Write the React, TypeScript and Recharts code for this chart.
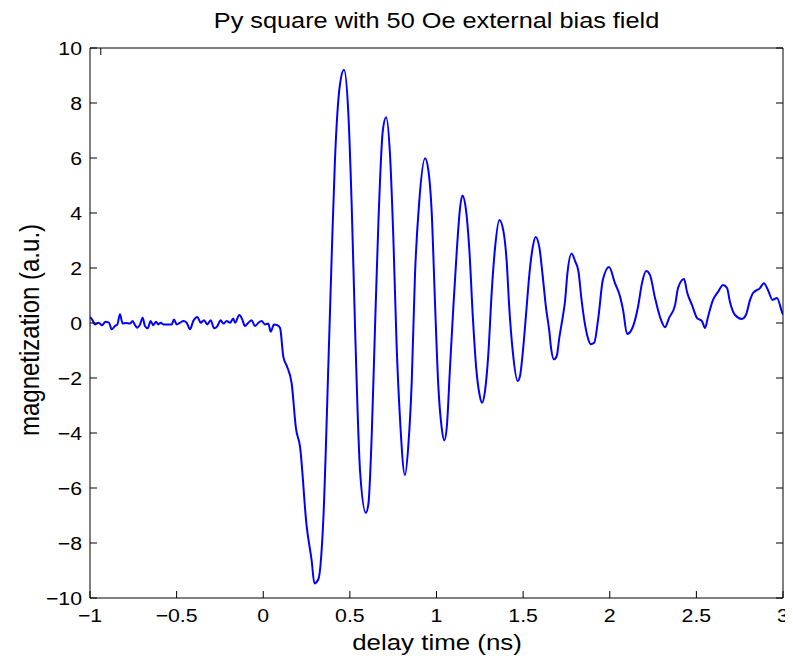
import { Line, LineChart, XAxis, YAxis } from "recharts";

// delay time (ns) and magnetization (a.u.)
const delayTime = [
  -1.0, -0.995, -0.97, -0.95, -0.93, -0.91, -0.89, -0.875, -0.856, -0.842, -0.827, -0.812, -0.792, -0.77,
  -0.754, -0.74, -0.727, -0.711, -0.696, -0.683, -0.667, -0.65, -0.635, -0.619, -0.606, -0.592, -0.577,
  -0.548, -0.528, -0.515, -0.5, -0.48, -0.461, -0.442, -0.423, -0.404, -0.38, -0.361, -0.342, -0.323,
  -0.303, -0.284, -0.265, -0.246, -0.23, -0.211, -0.192, -0.173, -0.163, -0.138, -0.121, -0.106, -0.086,
  -0.067, -0.048, -0.028, -0.009, 0.01, 0.029, 0.043, 0.062, 0.081, 0.097,
  0.116, 0.135, 0.164, 0.189, 0.212, 0.25, 0.28, 0.295, 0.318, 0.347, 0.376, 0.395, 0.414, 0.443, 0.466,
  0.491, 0.51, 0.53, 0.559, 0.592, 0.607, 0.626, 0.645, 0.665, 0.69, 0.709, 0.732, 0.751, 0.77, 0.789,
  0.818, 0.837, 0.857, 0.876, 0.9, 0.934, 0.953, 0.972, 0.991, 1.01, 1.03, 1.045, 1.059, 1.078, 1.097,
  1.117, 1.136, 1.149, 1.171, 1.19, 1.21, 1.229, 1.248, 1.263, 1.28, 1.299, 1.319, 1.338, 1.363, 1.386,
  1.405, 1.42, 1.44, 1.469, 1.482, 1.497, 1.517, 1.536, 1.555, 1.572, 1.594, 1.612, 1.632, 1.651, 1.661,
  1.678, 1.694, 1.709, 1.728, 1.742, 1.755, 1.78, 1.8, 1.819, 1.838, 1.857, 1.876, 1.89, 1.91, 1.934,
  1.96, 1.996, 2.03, 2.06, 2.077, 2.1, 2.128, 2.163, 2.186, 2.21, 2.232, 2.26, 2.29, 2.319, 2.342, 2.377,
  2.394, 2.429, 2.446, 2.475, 2.504, 2.532, 2.55, 2.567, 2.596, 2.625, 2.654, 2.677, 2.694, 2.723, 2.763,
  2.786, 2.81, 2.827, 2.867, 2.89, 2.913, 2.94, 2.965, 2.994, 3.0,
];

const magnetization = [
  0.2, 0.19, -0.05, 0.01, -0.08, 0.05, 0.01, -0.23, -0.11, -0.05, 0.32, -0.02, 0, -0.02,
  0.07, -0.08, -0.17, -0.05, 0.19, -0.11, -0.19, 0.07, -0.08, 0.05, -0.05, 0.01, -0.05,
  -0.05, -0.05, 0.13, -0.05, 0.01, 0.07, 0.01, -0.23, 0.07, 0.22, 0.01, 0.1, -0.05,
  0.1, -0.19, -0.11, 0.1, -0.02, 0.07, 0.01, 0.16, 0.01, 0.29, 0.13, -0.11, 0.01,
  0.1, -0.11, 0.01, 0.07, -0.05, -0.02, -0.32, -0.05, -0.08, -0.18,
  -1.23, -1.55, -2.2, -3.84, -4.49, -7.36, -8.67, -9.47, -9.32, -7.1, -1.49, 2.43, 5.95, 8.69, 9.21,
  7.64, 4.38, -0.18, -5.4, -6.9, -6.58, -4.1, -0.18, 3.73, 6.99, 7.48, 6.08, 3.08, -0.84, -3.44,
  -5.53, -4.49, -2.14, 1.78, 4.38, 5.99, 5.56, 4.07, 0.8, -2.23, -3.81, -4.27, -3.81, -1.62, 0.56,
  2.62, 4.19, 4.64, 4.07, 2.62, 0.19, -1.62, -2.59, -2.9, -2.47, -1.14, 1.16, 2.74, 3.75, 3.35,
  2.25, 0.56, -1.02, -2.11, -1.93, -1.14, 0.32, 1.77, 2.74, 3.13, 2.74, 1.77, 0.56, -0.29, -0.9,
  -1.32, -1.2, -0.53, 0.19, 0.8, 1.77, 2.53, 2.25, 1.89, 0.8, -0.05, -0.59, -0.77, -0.72, 0.19,
  1.56, 2.04, 1.45, 0.95, 0.47, -0.4, -0.22, 0.58, 1.45, 1.89, 1.75, 0.95, 0.22, -0.15, 0.18, 0.65,
  1.27, 1.6, 1.13, 0.65, 0.18, 0.07, -0.18, 0.22, 0.84, 1.13, 1.38, 1.27, 0.76, 0.29, 0.15,
  0.29, 0.84, 1.09, 1.27, 1.45, 1.2, 0.84, 0.91, 0.4, 0.3,
];

const xTicks = [-1, -0.5, 0, 0.5, 1, 1.5, 2, 2.5, 3];
const yTicks = [-10, -8, -6, -4, -2, 0, 2, 4, 6, 8, 10];

const title = "Py square with 50 Oe external bias field";
const xLabel = "delay time (ns)";
const yLabel = "magnetization (a.u.)";

const data = delayTime.map((t, i) => ({ t, m: magnetization[i] }));

const FONT = '"Liberation Sans", Arial, Helvetica, sans-serif';
const TICK = 7;
const STRETCH = 1.15;

const fmt = (v: number) => String(v).replace("-", "\u2212");

function BottomTick({ x, y, payload }: any) {
  return (
    <g>
      <line x1={x} y1={y} x2={x} y2={y - TICK} stroke="#000" />
      <text
        transform={`translate(${x},${y + 24}) scale(${STRETCH},1)`}
        textAnchor="middle"
        fontSize={18.5}
        fontFamily={FONT}
        fill="#000"
      >
        {fmt(payload.value)}
      </text>
    </g>
  );
}

function TopTick({ x, y }: any) {
  return <line x1={x} y1={y} x2={x} y2={y + TICK} stroke="#000" />;
}

function LeftTick({ x, y, payload }: any) {
  return (
    <g>
      <line x1={x} y1={y} x2={x + TICK} y2={y} stroke="#000" />
      <text
        transform={`translate(${x - 8},${y + 7}) scale(${STRETCH},1)`}
        textAnchor="end"
        fontSize={18.5}
        fontFamily={FONT}
        fill="#000"
      >
        {fmt(payload.value)}
      </text>
    </g>
  );
}

function RightTick({ x, y }: any) {
  return <line x1={x} y1={y} x2={x - TICK} y2={y} stroke="#000" />;
}

export default function App() {
  return (
    <div style={{ position: "relative", width: 785, height: 651 }}>
      <LineChart
        width={785}
        height={645}
        data={data}
        margin={{ top: 30, right: 0, bottom: 25, left: 32 }}
      >
        <XAxis
          xAxisId="b"
          dataKey="t"
          type="number"
          domain={[-1, 3]}
          ticks={xTicks}
          allowDataOverflow
          height={30}
          tickSize={0}
          tickMargin={0}
          tickLine={false}
          axisLine={{ stroke: "#000" }}
          tick={<BottomTick />}
        />
        <XAxis
          xAxisId="t"
          orientation="top"
          type="number"
          domain={[-1, 3]}
          ticks={xTicks}
          allowDataOverflow
          height={10}
          tickSize={0}
          tickMargin={0}
          tickLine={false}
          axisLine={{ stroke: "#000" }}
          tick={<TopTick />}
        />
        <YAxis
          yAxisId="l"
          type="number"
          domain={[-10, 10]}
          ticks={yTicks}
          allowDataOverflow
          width={50}
          tickSize={0}
          tickMargin={0}
          tickLine={false}
          axisLine={{ stroke: "#000" }}
          tick={<LeftTick />}
        />
        <YAxis
          yAxisId="r"
          orientation="right"
          type="number"
          domain={[-10, 10]}
          ticks={yTicks}
          allowDataOverflow
          width={10}
          tickSize={0}
          tickMargin={0}
          tickLine={false}
          axisLine={{ stroke: "#000" }}
          tick={<RightTick />}
        />
        <Line
          xAxisId="b"
          yAxisId="l"
          dataKey="m"
          type="monotoneX"
          stroke="#0000ff"
          strokeWidth={2}
          dot={false}
          isAnimationActive={false}
        />
      </LineChart>
      <svg
        width={785}
        height={651}
        style={{ position: "absolute", left: 0, top: 0, pointerEvents: "none" }}
      >
        <g fontFamily={FONT} fill="#000" textAnchor="middle">
          <text transform={`translate(428.5,20) scale(${STRETCH},1)`} fontSize={22}>
            {title}
          </text>
          <text transform={`translate(429,642) scale(${STRETCH},1)`} fontSize={22.5}>
            {xLabel}
          </text>
          <text transform={`translate(31,322) scale(${STRETCH},1) rotate(-90)`} fontSize={24}>
            {yLabel}
          </text>
        </g>
      </svg>
    </div>
  );
}
